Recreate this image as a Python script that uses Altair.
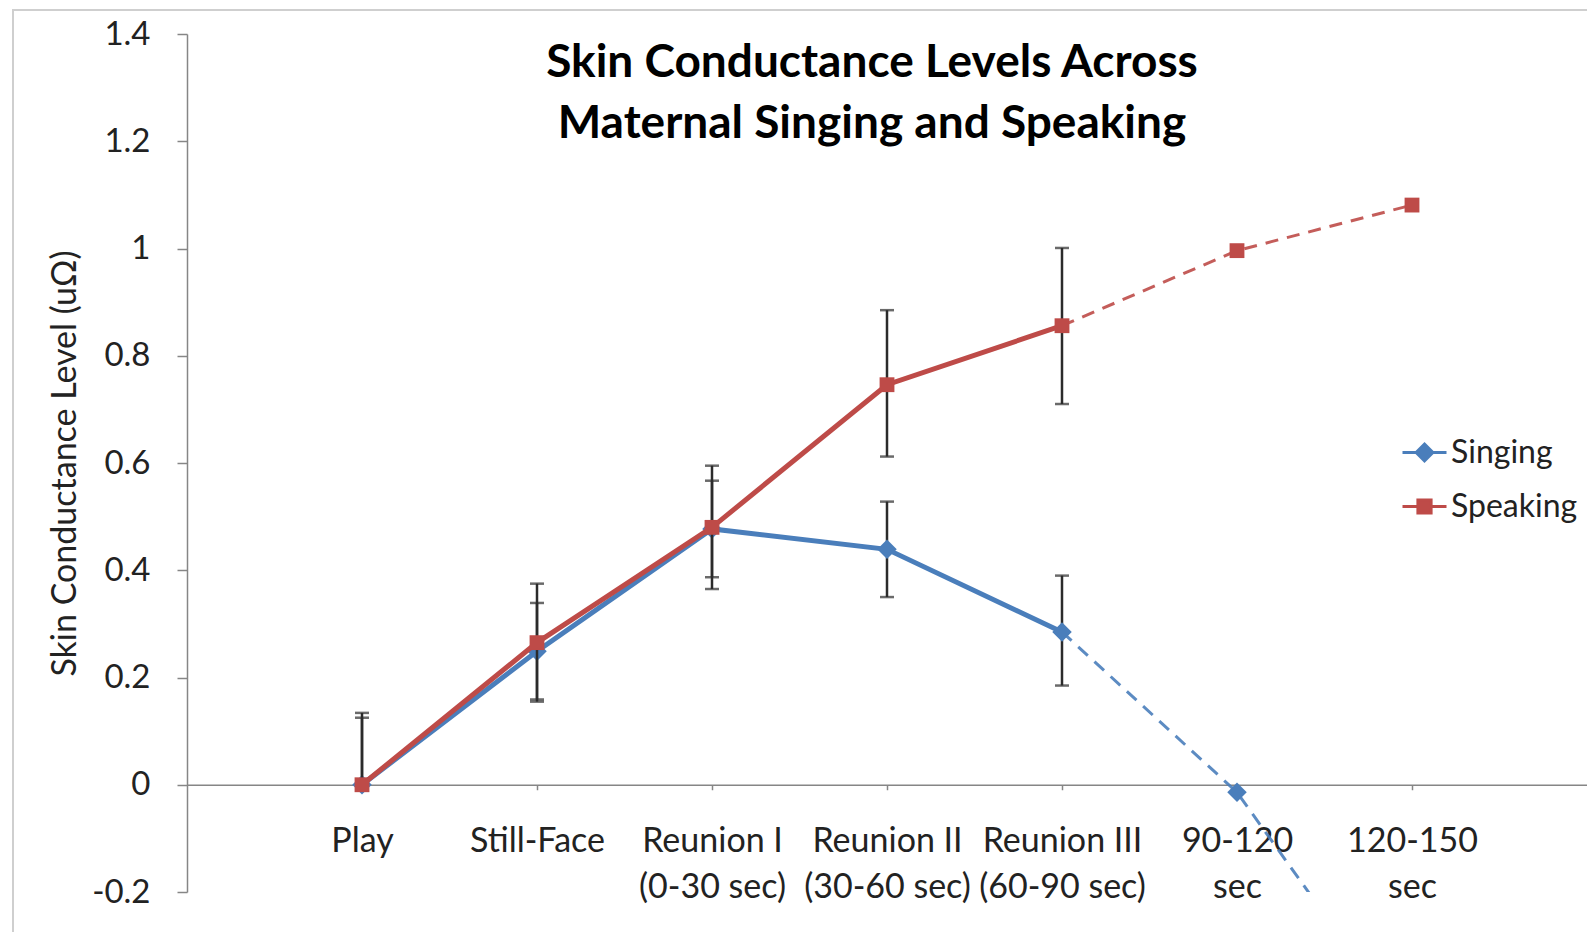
import altair as alt
import pandas as pd

# ---------------- data ----------------
categories = ["Play", "Still-Face", "Reunion I\n(0-30 sec)", "Reunion II\n(30-60 sec)",
              "Reunion III\n(60-90 sec)", "90-120\nsec", "120-150\nsec"]
series_names = ["Singing", "Speaking"]
series_colors = ["#4A7EBB", "#BE4B48"]

singing_mean = [0.0, 0.249, 0.477, 0.439, 0.285, -0.014, -0.47]
singing_err_plus = [0.125, 0.090, 0.090, 0.089, 0.105, None, None]
singing_err_minus = [0.0, 0.090, 0.090, 0.089, 0.100, None, None]

speaking_mean = [0.0, 0.265, 0.480, 0.746, 0.856, 0.996, 1.081]
speaking_err_plus = [0.134, 0.110, 0.115, 0.139, 0.145, None, None]
speaking_err_minus = [0.0, 0.110, 0.115, 0.134, 0.146, None, None]

measured_last = 4  # index of last measured category (Reunion III); later ones are projected

title_lines = ["Skin Conductance Levels Across", "Maternal Singing and Speaking"]
y_title = "Skin Conductance Level (uΩ)"
y_ticks = [-0.2, 0.0, 0.2, 0.4, 0.6, 0.8, 1.0, 1.2, 1.4]

FONT = "Lato"
TEXT = "#222222"
AXIS = "#868686"

W, H = 1400, 858

# ---------------- tables ----------------
def series_table(name, mean, ep, em):
    rows = []
    for i, c in enumerate(categories):
        lo = None if em[i] is None else mean[i] - em[i]
        hi = None if ep[i] is None else mean[i] + ep[i]
        rows.append({"series": name, "category": c, "idx": i, "value": mean[i],
                     "lo": lo, "hi": hi, "minus": em[i]})
    return pd.DataFrame(rows)

tables = {
    "Singing": series_table("Singing", singing_mean, singing_err_plus, singing_err_minus),
    "Speaking": series_table("Speaking", speaking_mean, speaking_err_plus, speaking_err_minus),
}

x_axis = alt.Axis(
    title=None, orient="bottom", offset=-H * 0.2 / 1.6,
    domainColor=AXIS, domainWidth=1.5, ticks=True, tickSize=5, tickColor=AXIS, tickWidth=1.5,
    labelFont=FONT, labelFontSize=34, labelColor=TEXT, labelAngle=0,
    labelBaseline="middle", labelPadding=52, labelLineHeight=46, labelOverlap=False,
    labelExpr="split(datum.label, '\\n')", grid=False,
)
x_enc = alt.X("category:N", sort=categories,
              scale=alt.Scale(type="point", domain=categories, padding=1), axis=x_axis)

y_axis = alt.Axis(
    title=y_title, values=y_ticks, grid=False,
    domainColor=AXIS, domainWidth=1.5, tickColor=AXIS, tickWidth=1.5, tickSize=10,
    labelFont=FONT, labelFontSize=33, labelColor=TEXT, labelPadding=27,
    labelExpr="datum.value < 0 ? '-' + format(-datum.value, '~g') : format(datum.value, '~g')",
    titleFont=FONT, titleFontSize=34, titleFontWeight="normal", titleColor=TEXT,
    titleAngle=-90, titleX=65 - 187, titleY=H / 2, titleAlign="center", titleBaseline="middle",
)
y_scale = alt.Scale(domain=[-0.2, 1.4], nice=False, zero=False)


def y_enc(field):
    return alt.Y(f"{field}:Q", scale=y_scale, axis=y_axis)


layers = []

# chart frame
frame = alt.Chart(pd.DataFrame({"k": [0]})).mark_rect(
    filled=False, stroke="#cfcfcf", strokeWidth=2, clip=False
).encode(x=alt.value(13 - 187), x2=alt.value(W + 40), y=alt.value(10 - 34), y2=alt.value(H + 200))
layers.append(frame)

shapes = {"Singing": ("diamond", 380), "Speaking": ("square", 220)}

for name, color in zip(series_names, series_colors):
    df = tables[name]
    solid = df[df["idx"] <= measured_last]
    dashed = df[df["idx"] >= measured_last]
    errs = df[df["hi"].notna()]
    lows = df[df["minus"].fillna(0) > 0]

    layers.append(alt.Chart(solid).mark_line(color=color, strokeWidth=5).encode(
        x=x_enc, y=y_enc("value"), order="idx:Q"))
    layers.append(alt.Chart(dashed).mark_line(color=color, strokeWidth=3, strokeDash=[13, 9],
                                              clip=True, opacity=0.9).encode(
        x=x_enc, y=y_enc("value"), order="idx:Q"))
    layers.append(alt.Chart(errs).mark_rule(color="#2b2b2b", strokeWidth=2.5).encode(
        x=x_enc, y=y_enc("lo"), y2="hi:Q"))
    layers.append(alt.Chart(errs).mark_tick(color="#2b2b2b", thickness=2.5, size=14).encode(
        x=x_enc, y=y_enc("hi")))
    layers.append(alt.Chart(lows).mark_tick(color="#2b2b2b", thickness=2.5, size=14).encode(
        x=x_enc, y=y_enc("lo")))
    shp, sz = shapes[name]
    layers.append(alt.Chart(df).mark_point(shape=shp, size=sz, filled=True, color=color,
                                           opacity=1, clip=True).encode(
        x=x_enc, y=y_enc("value")))

# legend carrier (invisible points, legend only)
leg_paths = ["M-1,0L1,0M0,-0.38L0.38,0L0,0.38L-0.38,0Z",
             "M-1,0L1,0M-0.3,-0.3L0.3,-0.3L0.3,0.3L-0.3,0.3Z"]
legend = alt.Legend(
    title=None, orient="none", legendX=1214, legendY=395, padding=0,
    symbolSize=1936, symbolStrokeWidth=3, symbolOpacity=1,
    labelFont=FONT, labelFontSize=32, labelColor=TEXT, labelOffset=3, rowPadding=14,
)
leg_df = pd.DataFrame({"series": series_names})
layers.append(alt.Chart(leg_df).mark_point(opacity=0).encode(
    fill=alt.Fill("series:N", scale=alt.Scale(domain=series_names, range=series_colors), legend=legend),
    stroke=alt.Stroke("series:N", scale=alt.Scale(domain=series_names, range=series_colors), legend=legend),
    shape=alt.Shape("series:N", scale=alt.Scale(domain=series_names, range=leg_paths), legend=legend),
))

# title
title = alt.Chart(pd.DataFrame({"k": [0]})).mark_text(
    text=title_lines, font=FONT, fontSize=46, fontWeight="bold", color="#000000",
    align="center", baseline="alphabetic", lineHeight=61,
).encode(x=alt.value(872 - 187), y=alt.value(77 - 34))
layers.append(title)

chart = alt.layer(*layers).properties(
    width=W, height=H,
    padding={"left": 179, "top": 26, "right": 0, "bottom": 40},
    autosize=alt.AutoSizeParams(type="none"),
    background="white",
).configure_view(strokeWidth=0)

chart.save("out.html", embed_options={"renderer": "svg", "actions": False})
